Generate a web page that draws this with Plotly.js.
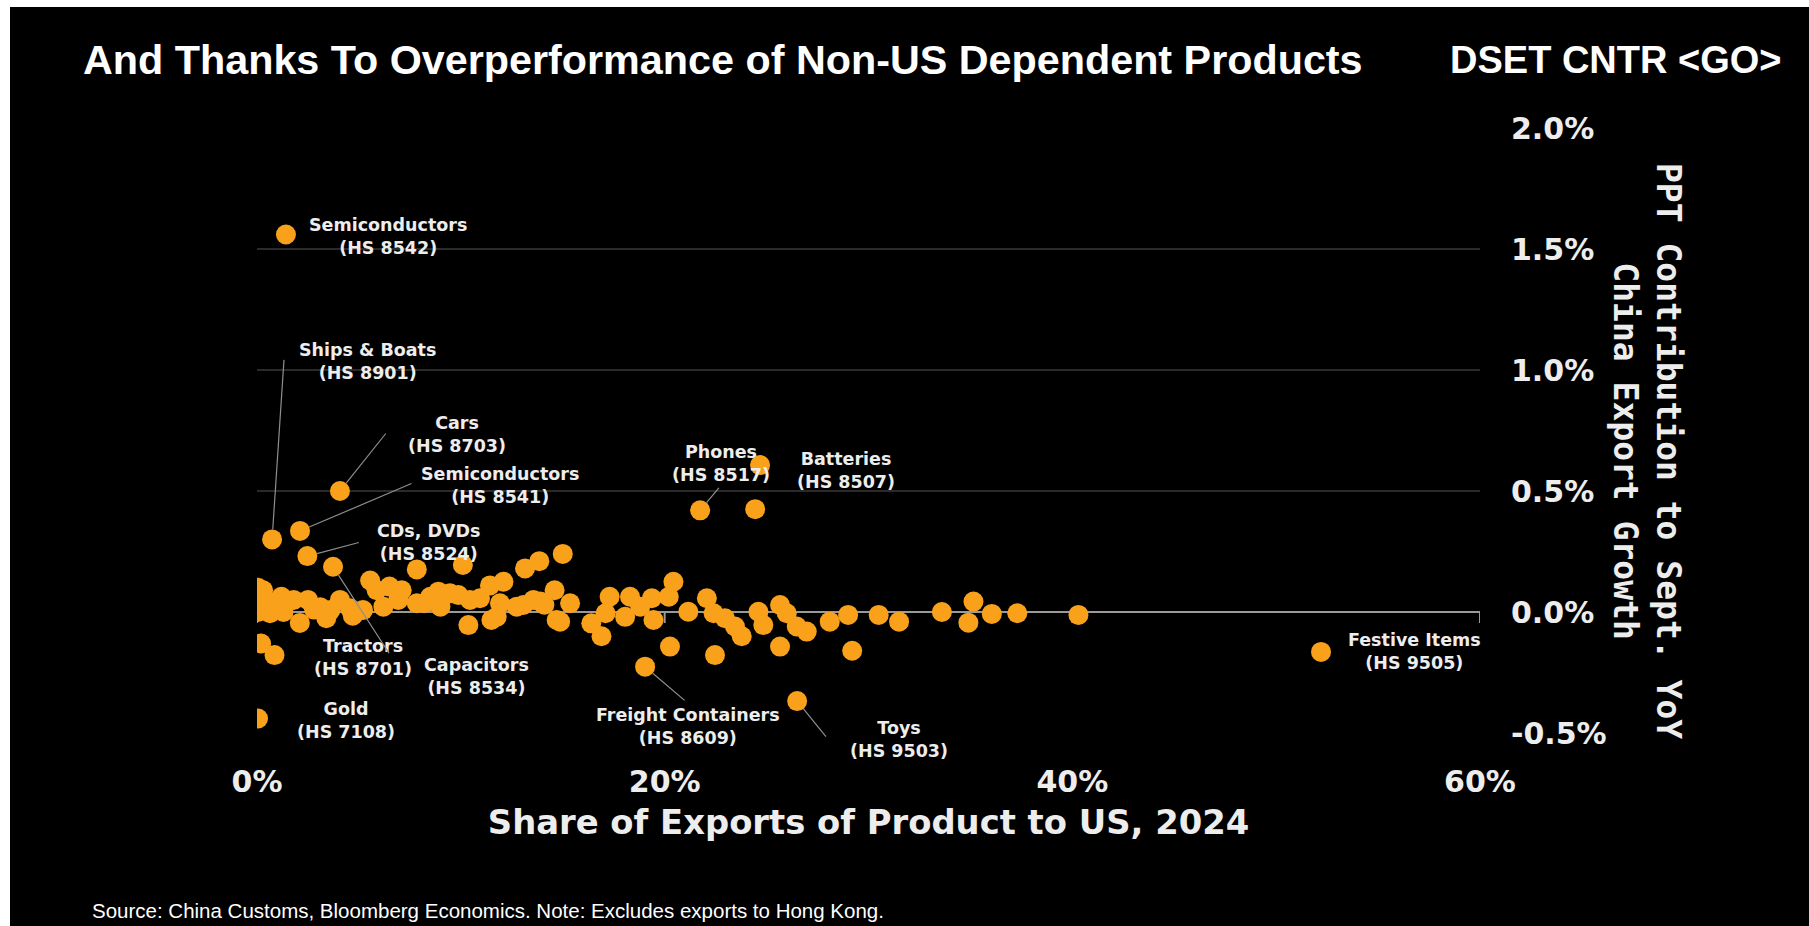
<!DOCTYPE html>
<html><head><meta charset="utf-8">
<script src="https://cdn.plot.ly/plotly-3.0.1.min.js"></script>
<style>
html,body{margin:0;padding:0;background:#fff;width:1809px;height:926px;overflow:hidden;}
#chart{position:absolute;left:10px;top:7px;width:1799px;height:919px;background:#000;}
</style></head><body><div id="chart"></div>
<script>
// ---------- DATA ----------
const shareX = [
  0.05, 0.05, 0.05, 0.2,
  0.3, 0.64, 0.9, 1.2, 1.3, 1.8, 2.1, 2.5, 2.8, 3.1, 3.4, 3.6, 4.07, 4.56, 4.7, 5.2, 5.55, 5.87, 6.2, 6.5, 6.93, 7.1,
  7.84, 10.1, 13.15, 13.85, 15.0,
  7.84, 8.2, 8.5, 8.9, 9.0, 9.47, 9.88, 10.37, 10.45, 10.94, 11.43, 11.5, 11.76, 11.92, 12.09, 12.74, 13.07, 13.56, 13.9, 14.1, 14.6, 14.7, 14.87, 15.36,
  16.4, 16.9, 17.3, 17.1, 18.06, 18.3, 18.8, 19.37, 19.45, 20.2, 20.43, 20.26, 21.16, 22.07, 22.4, 22.96, 23.45, 23.78, 22.47, 24.44, 24.6, 24.84, 25.66, 25.99, 26.48, 26.97, 25.66, 28.1,
  29.0, 29.2, 30.5, 31.5, 33.6, 35.15, 34.9, 36.05, 37.3, 40.3
];
const contribY = [
  0.10, 0.05, 0.0, -0.13,
  0.09, -0.005, 0.04, 0.063, 0.0, 0.05, -0.045, 0.05, 0.01, 0.02, -0.026, 0.008, 0.05, 0.015, -0.015, 0.008, 0.13, 0.09, 0.022, 0.105, 0.05, 0.09,
  0.176, 0.194, 0.18, 0.21, 0.24,
  0.036, 0.036, 0.063, 0.084, 0.022, 0.077, 0.07, -0.054, 0.05, 0.057, 0.11, -0.033, -0.02, 0.036, 0.125, 0.022, 0.029, 0.05, 0.043, 0.03, 0.09, -0.033, -0.04, 0.036,
  -0.047, -0.10, 0.063, -0.005, -0.02, 0.063, 0.022, 0.057, -0.033, 0.063, 0.125, -0.143, 0.001, 0.057, -0.005, -0.026, -0.06, -0.10, -0.178, 0.425, 0.001, -0.054, 0.029, -0.005, -0.06, -0.081, -0.143, -0.04,
  -0.012, -0.16, -0.012, -0.04, 0.0, 0.043, -0.044, -0.008, -0.005, -0.012
];
const labelNames = ['Semiconductors', 'Ships &amp; Boats', 'Cars', 'Semiconductors', 'CDs, DVDs', 'Tractors', 'Capacitors', 'Gold', 'Phones', 'Batteries', 'Freight Containers', 'Toys', 'Festive Items'];
const labelCodes = ['HS 8542', 'HS 8901', 'HS 8703', 'HS 8541', 'HS 8524', 'HS 8701', 'HS 8534', 'HS 7108', 'HS 8517', 'HS 8507', 'HS 8609', 'HS 9503', 'HS 9505'];
const labelX = [1.42, 0.74, 4.07, 2.11, 2.47, 0.86, 3.73, 0.05, 21.74, 24.68, 19.04, 26.5, 52.2];
const labelY = [1.56, 0.30, 0.50, 0.335, 0.231, -0.178, 0.187, -0.44, 0.42, 0.607, -0.226, -0.368, -0.165];
const xTickVals = [0, 20, 40, 60];
const xTickText = ['0%', '20%', '40%', '60%'];
const yTickVals = [-0.5, 0, 0.5, 1.0, 1.5, 2.0];
const yTickText = ['-0.5%', '0.0%', '0.5%', '1.0%', '1.5%', '2.0%'];
const titleText = 'And Thanks To Overperformance of Non-US Dependent Products';
const cornerText = 'DSET CNTR &lt;GO&gt;';
const xTitleText = 'Share of Exports of Product to US, 2024';
const yTitleText = 'PPT Contribution to Sept. YoY<br>China Export Growth';
const sourceText = 'Source: China Customs, Bloomberg Economics. Note: Excludes exports to Hong Kong.';

// ---------- LAYOUT GEOMETRY (pixels) ----------
const W = 1799, H = 919, ML = 247, MR = 329, MT = 121, MB = 193;
const PW = W - ML - MR, PH = H - MT - MB;
const OX = 10, OY = 7; // page offset of the chart div
const pX = v => (v - OX - ML) / PW;
const pY = v => 1 - (v - OY - MT) / PH;

// label placement: label centre offset (dx, dy) and connector tail (ax, ay), pixels from the point
const labelPlace = [
  {dx: 102, dy: 2},
  {dx: 95, dy: -178, ax: 12, ay: -181},
  {dx: 117, dy: -57, ax: 47, ay: -59},
  {dx: 200, dy: -45, ax: 113, ay: -48},
  {dx: 122, dy: -14, ax: 53, ay: -14},
  {dx: 88, dy: 2},
  {dx: 143, dy: 110, ax: 57, ay: 88},
  {dx: 88, dy: 2},
  {dx: 21, dy: -47, ax: 20, ay: -24},
  {dx: 86, dy: 5},
  {dx: 43, dy: 60, ax: 41, ay: 35},
  {dx: 102, dy: 38, ax: 30, ay: 37},
  {dx: 93, dy: 0}
];

const ORANGE = '#F9A11B';
const TXT = '#EDEDED';
const tickFont = {family: 'DejaVu Sans, Verdana, sans-serif', size: 30, color: TXT, weight: 700};
const labelFont = {family: 'DejaVu Sans, Verdana, sans-serif', size: 17.5, color: TXT, weight: 700};

const markerStyle = {color: ORANGE, size: 20, line: {width: 0}};
const traces = [
  {type: 'scatter', mode: 'markers', x: shareX, y: contribY, marker: markerStyle, hoverinfo: 'skip', showlegend: false},
  {type: 'scatter', mode: 'markers', x: labelX, y: labelY, marker: markerStyle, hoverinfo: 'skip', showlegend: false}
];

const annotations = [];
labelNames.forEach((name, i) => {
  const p = labelPlace[i];
  if (p.ax !== undefined) {
    annotations.push({x: labelX[i], y: labelY[i], xref: 'x', yref: 'y', text: '', showarrow: true,
      arrowhead: 0, arrowwidth: 1.2, arrowcolor: '#8E8E8E', ax: p.ax, ay: p.ay, standoff: 10});
  }
  annotations.push({x: labelX[i], y: labelY[i], xref: 'x', yref: 'y',
    text: name + '<br>(' + labelCodes[i] + ')', showarrow: false,
    xanchor: 'center', yanchor: 'middle', align: 'center',
    xshift: p.dx, yshift: -p.dy, font: labelFont});
});
annotations.push({xref: 'paper', yref: 'paper', x: pX(1448), y: pY(60), xanchor: 'left', yanchor: 'middle',
  text: cornerText, showarrow: false, font: {family: 'Liberation Sans, Arial, sans-serif', size: 38, color: '#fff', weight: 700}});
annotations.push({xref: 'paper', yref: 'paper', x: pX(1647), y: pY(451), xanchor: 'center', yanchor: 'middle',
  text: yTitleText, textangle: 90, showarrow: false, align: 'center',
  font: {family: 'DejaVu Sans Mono, monospace', size: 33, color: TXT, weight: 700}});
annotations.push({xref: 'paper', yref: 'paper', x: pX(90), y: pY(910), xanchor: 'left', yanchor: 'middle',
  text: sourceText, showarrow: false, font: {family: 'Liberation Sans, Arial, sans-serif', size: 20.5, color: '#fff'}});

const shapes = xTickVals.map(v => ({type: 'line', xref: 'x', yref: 'y', x0: v, x1: v,
  ysizemode: 'pixel', yanchor: 0, y0: 0, y1: -11, line: {color: '#9A9A9A', width: 2}, layer: 'below'}));

const layout = {
  width: W, height: H,
  margin: {l: ML, r: MR, t: MT, b: MB, pad: 0},
  paper_bgcolor: '#000', plot_bgcolor: '#000',
  title: {text: titleText, xref: 'container', yref: 'container', x: (83 - OX) / W, xanchor: 'left',
    y: 1 - (60 - OY) / H, yanchor: 'middle',
    font: {family: 'Liberation Sans, Arial, sans-serif', size: 41.3, color: '#fff', weight: 700}},
  showlegend: false,
  hovermode: false,
  xaxis: {range: [0, 60], tickvals: xTickVals, ticktext: xTickText, showgrid: false, zeroline: false,
    showline: false, ticks: '', tickfont: tickFont, ticklabelstandoff: 28,
    title: {text: xTitleText, font: {family: 'DejaVu Sans, Verdana, sans-serif', size: 33.8, color: TXT, weight: 700}, standoff: 12}},
  yaxis: {range: [-0.5, 2.0], side: 'right', tickvals: yTickVals, ticktext: yTickText, showgrid: true,
    gridcolor: '#2A2A2A', gridwidth: 1.5, zeroline: true, zerolinecolor: '#9A9A9A', zerolinewidth: 2,
    showline: false, ticks: '', tickfont: tickFont, ticklabelstandoff: 30},
  annotations: annotations,
  shapes: shapes
};

Plotly.newPlot('chart', traces, layout, {displayModeBar: false, staticPlot: true});
</script></body></html>
